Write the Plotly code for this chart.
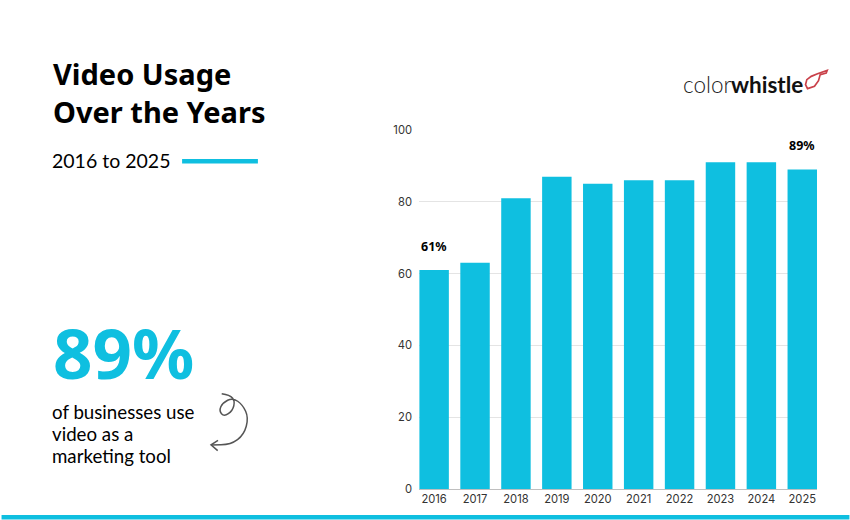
import plotly.graph_objects as go

years = ["2016", "2017", "2018", "2019", "2020", "2021", "2022", "2023", "2024", "2025"]
usage = [61, 63, 81, 87, 85, 86, 86, 91, 91, 89]
labelled_years = ["2016", "2025"]
labelled_usage = [61, 89]
y_ticks = [0, 20, 40, 60, 80, 100]

W, H = 850, 520
LEFT, RIGHT, TOP, BOTTOM = 418.5, 817.5, 129.5, 489.5
CYAN = "#0fbfe0"
HEAD = "Noto Sans"
BODY = "Lato"


# paper coords are relative to the plot area, so convert from page pixels
def px(x):
    return (x - LEFT) / (RIGHT - LEFT)


def py(y):
    return (BOTTOM - y) / (BOTTOM - TOP)


def note(x, y, text, size, color="#000000", anchor="left", family=BODY, weight=None):
    fig.add_annotation(xref="paper", yref="paper", x=px(x), y=py(y), text=text, showarrow=False,
                       xanchor=anchor, yanchor="middle", align="left",
                       font=dict(family=family, size=size, color=color, weight=weight))


def to_path(points):
    return "M" + " L".join(f"{px(a):.4f},{py(b):.4f}" for a, b in points)


def smooth_path(points):
    # quadratic curve through the midpoints, good enough for hand drawn strokes
    d = f"M{px(points[0][0]):.4f},{py(points[0][1]):.4f}"
    for (a, b), (c, e) in zip(points[1:-1], points[2:]):
        d += f" Q{px(a):.4f},{py(b):.4f} {px((a + c) / 2):.4f},{py((b + e) / 2):.4f}"
    d += f" L{px(points[-1][0]):.4f},{py(points[-1][1]):.4f}"
    return d


fig = go.Figure(go.Bar(x=years, y=usage, marker_color=CYAN, marker_line_width=0, width=0.72,
                       hoverinfo="skip"))

fig.update_layout(
    width=W, height=H, margin=dict(l=LEFT, r=W - RIGHT, t=TOP, b=H - BOTTOM),
    paper_bgcolor="white", plot_bgcolor="white", showlegend=False,
    font=dict(family="Inter", size=11, color="#333333"),
)
fig.update_xaxes(type="category", range=[-0.37, 9.36], showgrid=False, ticks="", tickfont=dict(size=11.2),
                 showline=True, linecolor="#bfbfbf", linewidth=1)
fig.update_yaxes(range=[0, 100], tickvals=y_ticks, gridcolor="#e4e4e4", gridwidth=1, zeroline=False,
                 ticks="", tickfont=dict(size=11.2), ticklabelstandoff=6)

# the two labelled bars, x has to be the category index because "2016" reads as a number
for yr, val in zip(labelled_years, labelled_usage):
    fig.add_annotation(xref="x", yref="y", x=years.index(yr), y=val, text=f"<b>{val}%</b>", showarrow=False,
                       yshift=24, font=dict(family=HEAD, size=12.5, color="#000000"))

# left hand text
note(50, 73, "<b>Video Usage</b>", 29, family=HEAD)
note(50, 111, "<b>Over the Years</b>", 29, family=HEAD)
note(49, 160, "2016 to 2025", 19.5)
note(50, 352, "<b>89%</b>", 69, CYAN, family=HEAD)
note(49, 412, "of businesses use", 18.7)
note(49, 434, "video as a", 18.7)
note(49, 456, "marketing tool", 18.7)

# logo
note(733, 84, "color", 22.5, "#222222", anchor="right", weight=300)
note(729, 84, "<b>whistle</b>", 22.5, "#111111")

# accent line and bottom strip
fig.add_shape(type="rect", xref="paper", yref="paper", x0=px(181), x1=px(257), y0=py(158.5), y1=py(163),
              fillcolor=CYAN, line_width=0)
fig.add_shape(type="rect", xref="paper", yref="paper", x0=px(0), x1=px(W), y0=py(515.5), y1=py(H),
              fillcolor=CYAN, line_width=0)

# whistle outline
whistle = [(827.7, 69.7), (826.7, 72.3), (820.7, 74), (819, 80), (815, 85.7), (808, 88), (806, 84), (807.3, 79),
           (811.7, 75.7), (818, 73), (827.7, 69.7)]
fig.add_shape(type="path", xref="paper", yref="paper", path=to_path(whistle) + " Z",
              line=dict(color="#c9414a", width=1.7))

# curly arrow
arrow = [(220.7, 394), (229, 395.3), (234, 401), (231.7, 411), (223, 417), (218, 411), (221.7, 403), (231.7, 398),
         (241.7, 405), (247.7, 418), (243, 435), (230, 445), (210, 445.3)]
fig.add_shape(type="path", xref="paper", yref="paper", path=smooth_path(arrow), line=dict(color="#555555", width=1.5))
fig.add_shape(type="path", xref="paper", yref="paper", path=to_path([(217, 440.7), (210, 445.3), (216.7, 451)]),
              line=dict(color="#555555", width=1.5))

fig.write_html("out.html", post_script="document.body.style.margin='0';", config=dict(displayModeBar=False))
